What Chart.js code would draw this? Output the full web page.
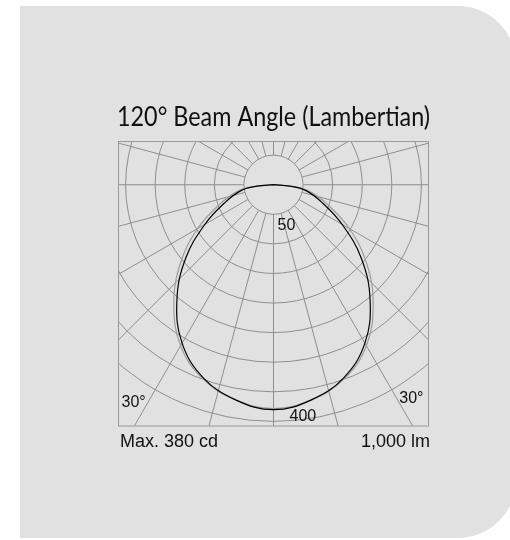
<!DOCTYPE html>
<html>
<head>
<meta charset="utf-8">
<script src="https://cdn.jsdelivr.net/npm/chart.js@4.4.1/dist/chart.umd.min.js"></script>
<style>
  html, body { margin: 0; padding: 0; background: #ffffff; }
  #wrap { position: relative; width: 510px; height: 540px; overflow: hidden; }
  #panel { position: absolute; left: 20px; top: 6px; width: 496px; height: 532px;
           background: #e1e1e1; border-radius: 0 58px 58px 0; }
  #c { position: absolute; left: 0; top: 0; }
</style>
</head>
<body>
<div id="wrap">
  <div id="panel"></div>
  <canvas id="c" width="510" height="540"></canvas>
</div>
<script>
// Luminous intensity distribution (cd per 1000 lm), angle measured from nadir
const curveAngles = [-90, -85, -80, -70, -60, -50, -40, -30, -20, -10, 0, 10, 20, 30, 40, 50, 60, 70, 80, 85, 90];
const planeC0  = [0, 28, 55, 87, 134, 194, 254, 309, 347, 369, 380, 369, 347, 309, 254, 194, 134, 87, 55, 28, 0];
const planeC90 = [0, 30, 60, 97, 148, 205, 262, 314, 349, 369, 378, 369, 349, 314, 262, 205, 148, 97, 60, 30, 0];

// Polar grid: intensity rings and angle spokes
const ringValues = [50, 100, 150, 200, 250, 300, 350, 400];
const spokeAngles = [0, 15, 30, 45, 60, 75, 90, 105, 120, 135, 150, 165, 180,
                     195, 210, 225, 240, 255, 270, 285, 300, 315, 330, 345];
const ringLabelValues = [50, 400];
const ringLabelTexts = ['50', '400'];
const angleLabel = '30°';

const titleText = '120° Beam Angle (Lambertian)';
const maxText = 'Max. 380 cd';
const fluxText = '1,000 lm';

const GRID = '#8e8e8e';
const BORDER = '#9a9a9a';
const LABEL_FONT = '"Liberation Sans", Arial, sans-serif';

function toPoints(values) {
  return curveAngles.map((a, i) => {
    const t = a * Math.PI / 180;
    return { x: values[i] * Math.sin(t), y: -values[i] * Math.cos(t) };
  });
}

const polarGrid = {
  id: 'polarGrid',
  beforeDatasetsDraw(chart) {
    const { ctx, chartArea: a, scales: { x, y } } = chart;
    const cx = x.getPixelForValue(0), cy = y.getPixelForValue(0);
    const k = x.getPixelForValue(1) - cx;
    ctx.save();
    ctx.beginPath();
    ctx.rect(a.left, a.top, a.right - a.left, a.bottom - a.top);
    ctx.clip();
    ctx.strokeStyle = GRID;
    ctx.lineWidth = 1;
    ringValues.forEach(v => {
      ctx.beginPath();
      ctx.arc(cx, cy, v * k, 0, Math.PI * 2);
      ctx.stroke();
    });
    const r0 = ringValues[0], r1 = 1000;
    spokeAngles.forEach(d => {
      const t = d * Math.PI / 180;
      ctx.beginPath();
      ctx.moveTo(x.getPixelForValue(r0 * Math.sin(t)), y.getPixelForValue(-r0 * Math.cos(t)));
      ctx.lineTo(x.getPixelForValue(r1 * Math.sin(t)), y.getPixelForValue(-r1 * Math.cos(t)));
      ctx.stroke();
    });
    ctx.restore();
    ctx.save();
    ctx.strokeStyle = BORDER;
    ctx.lineWidth = 1;
    ctx.strokeRect(a.left, a.top, a.right - a.left, a.bottom - a.top);
    ctx.restore();
  },
  afterDatasetsDraw(chart) {
    const { ctx, chartArea: a, scales: { x, y } } = chart;
    const cx = x.getPixelForValue(0);
    ctx.save();
    ctx.fillStyle = '#111111';
    ctx.textBaseline = 'alphabetic';
    ctx.font = '16px ' + LABEL_FONT;
    // ring value labels
    ctx.textAlign = 'left';
    ctx.fillText(ringLabelTexts[0], cx + 4, y.getPixelForValue(-ringLabelValues[0]) + 16);
    ctx.fillText(ringLabelTexts[1], cx + 16, y.getPixelForValue(-ringLabelValues[1]) - 1);
    // angle labels in the lower corners
    ctx.fillText(angleLabel, a.left + 3, a.bottom - 19);
    ctx.textAlign = 'right';
    ctx.fillText(angleLabel, a.right - 5, a.bottom - 23);
    // captions under the diagram
    ctx.font = '18px ' + LABEL_FONT;
    ctx.textAlign = 'left';
    ctx.fillText(maxText, a.left + 1.5, a.bottom + 21);
    ctx.textAlign = 'right';
    ctx.fillText(fluxText, a.right + 1.5, a.bottom + 21);
    // title, fitted to the width of the diagram
    ctx.font = '27px Lato, "Open Sans", sans-serif';
    ctx.textAlign = 'center';
    const w = ctx.measureText(titleText).width;
    const target = (a.right - a.left) + 3;
    const sx = Math.min(1, target / w);
    ctx.translate((a.left + a.right) / 2, 126);
    ctx.scale(sx, 1);
    ctx.fillText(titleText, 0, 0);
    ctx.restore();
  }
};

new Chart(document.getElementById('c'), {
  type: 'scatter',
  data: {
    datasets: [
      { label: 'C0', data: toPoints(planeC0), showLine: true, borderColor: '#000000',
        borderWidth: 1.2, pointRadius: 0, tension: 0.4, fill: false },
      { label: 'C90', data: toPoints(planeC90), showLine: true, borderColor: '#9c9c9c',
        borderWidth: 1.2, pointRadius: 0, tension: 0.4, fill: false }
    ]
  },
  options: {
    responsive: false,
    devicePixelRatio: 1,
    animation: false,
    events: [],
    layout: { padding: { left: 118.5, top: 141.5, right: 81.5, bottom: 114 } },
    scales: {
      x: { type: 'linear', min: -262, max: 262, display: false },
      y: { type: 'linear', min: -407.5, max: 73, display: false }
    },
    plugins: {
      legend: { display: false },
      title: { display: false },
      tooltip: { enabled: false }
    }
  },
  plugins: [polarGrid]
});
</script>
</body>
</html>
